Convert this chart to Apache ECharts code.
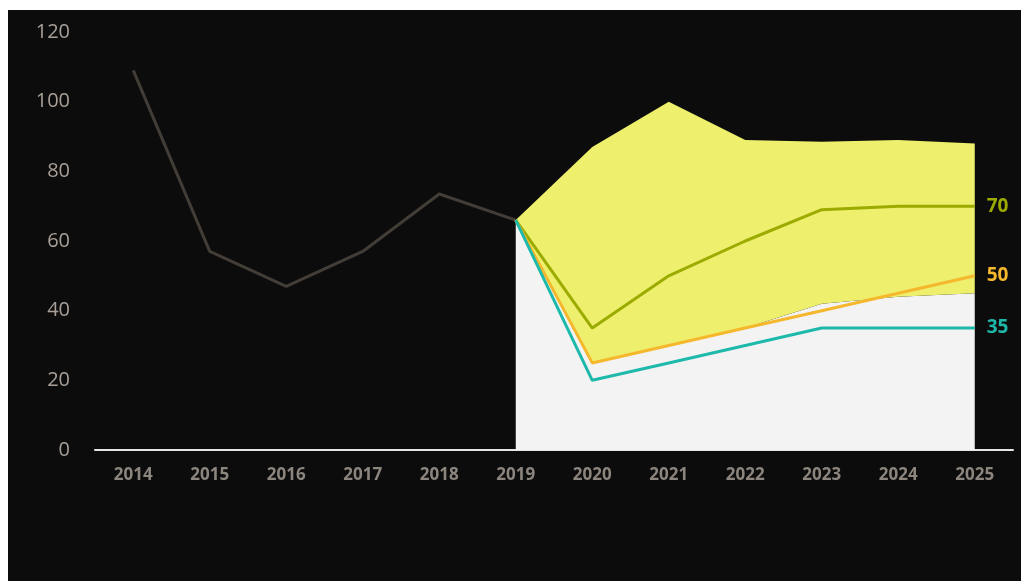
<!DOCTYPE html>
<html><head><meta charset="utf-8">
<script src="https://cdn.jsdelivr.net/npm/echarts@6/dist/echarts.min.js"></script>
<style>
html,body{margin:0;padding:0;background:#ffffff;width:1021px;height:581px;overflow:hidden;}
#c{position:absolute;left:8px;top:10px;width:1013px;height:571px;background:#0d0c0c;}
</style></head>
<body><div id="c"></div>
<script>
const years = ['2014','2015','2016','2017','2018','2019','2020','2021','2022','2023','2024','2025'];
const history = [109, 57, 47, 57, 73.5, 66, null, null, null, null, null, null];
const bandLower = [null, null, null, null, null, 66, 25, 30, 35, 42, 44, 45];
const bandUpper = [null, null, null, null, null, 66, 87, 100, 89, 88.5, 89, 88];
const scenario70 = [null, null, null, null, null, 66, 35, 50, 60, 69, 70, 70];
const scenario50 = [null, null, null, null, null, 66, 25, 30, 35, 40, 45, 50];
const scenario35 = [null, null, null, null, null, 66, 20, 25, 30, 35, 35, 35];
const yTicks = [0, 20, 40, 60, 80, 100, 120];

const bandWidth = bandUpper.map((u, i) => (u == null ? null : u - bandLower[i]));
const font = '"Open Sans", "DejaVu Sans", sans-serif';

const chart = echarts.init(document.getElementById('c'), null, {renderer: 'canvas'});
function scen(name, data, color) {
  return {
    name, type: 'line', data, symbol: 'none', z: 5,
    lineStyle: {color, width: 3},
    endLabel: {show: true, formatter: p => String(p.value), color, fontSize: 19, fontWeight: 'bold', fontFamily: font, distance: 12}
  };
}
chart.setOption({
  animation: false,
  backgroundColor: 'transparent',
  grid: {left: 87, right: 8, top: 22, bottom: 131},
  xAxis: {
    type: 'category', data: years, boundaryGap: true,
    axisLine: {lineStyle: {color: '#e6e6e6', width: 2}},
    axisTick: {show: false},
    axisLabel: {color: '#8c857e', fontSize: 17, fontWeight: 'bold', fontFamily: font, margin: 17}
  },
  yAxis: {
    type: 'value', min: yTicks[0], max: yTicks[yTicks.length - 1], interval: 20,
    axisLine: {show: false}, axisTick: {show: false}, splitLine: {show: false},
    axisLabel: {color: '#a8a098', fontSize: 20, fontFamily: font, margin: 25}
  },
  series: [
    {name: 'lower', type: 'line', stack: 'band', data: bandLower, symbol: 'none', z: 2,
     lineStyle: {width: 0}, areaStyle: {color: '#f3f3f3', opacity: 1}},
    {name: 'range', type: 'line', stack: 'band', data: bandWidth, symbol: 'none', z: 2,
     lineStyle: {width: 0}, areaStyle: {color: '#eeef6c', opacity: 1}},
    {name: 'history', type: 'line', data: history, symbol: 'none', z: 4,
     lineStyle: {color: '#433d37', width: 3},
     label: {show: true, formatter: p => (p.dataIndex === 5 ? String(p.value) : ''), color: '#3a3530', fontSize: 15, fontFamily: font, position: 'top', offset: [-10, -4]}},
    scen('70', scenario70, '#9cab00'),
    scen('50', scenario50, '#f5b72c'),
    scen('35', scenario35, '#1db9aa')
  ]
});
</script></body></html>
